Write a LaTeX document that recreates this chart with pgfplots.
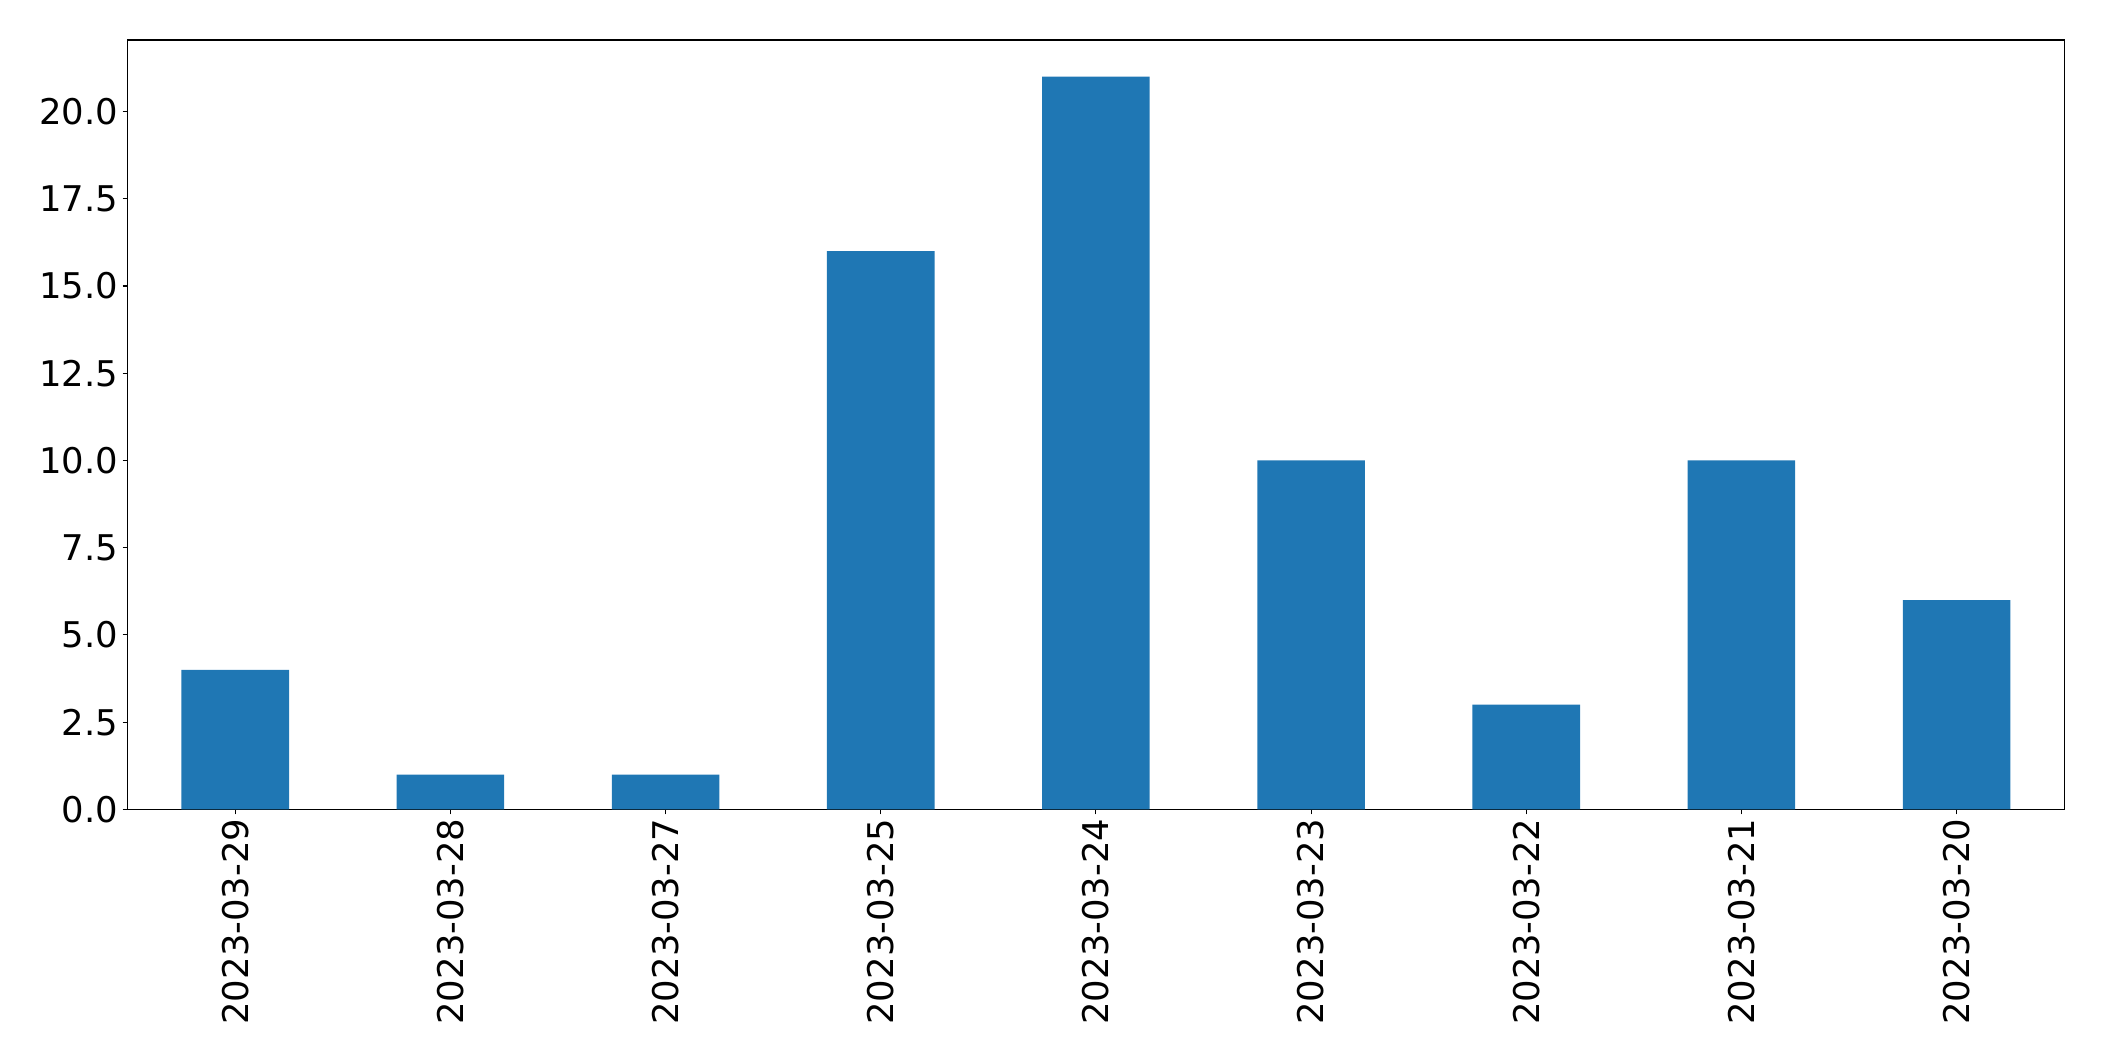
\documentclass[border=0pt]{standalone}
\usepackage{pgfplots}
\pgfplotsset{compat=1.18}
\usepackage{fontspec}
\setmainfont{DejaVu Sans}
\definecolor{mplblue}{HTML}{1F77B4}
\begin{document}
\fontsize{17.7}{21}\selectfont
\begin{tikzpicture}
\path[use as bounding box] (-63.85pt,-125.85pt) rectangle (988.15pt,404.7pt);
\begin{axis}[
  at={(0,0)}, anchor=south west,
  scale only axis=true,
  width=968.2pt, height=384.7pt,
  xmin=-0.5, xmax=8.5, ymin=0, ymax=22.05,
  xtick={0,1,2,3,4,5,6,7,8},
  xticklabels={2023-03-29,2023-03-28,2023-03-27,2023-03-25,2023-03-24,2023-03-23,2023-03-22,2023-03-21,2023-03-20},
  xticklabel style={rotate=90, anchor=east, inner sep=2pt},
  ytick={0,2.5,5,7.5,10,12.5,15,17.5,20},
  yticklabel style={/pgf/number format/fixed, /pgf/number format/fixed zerofill, /pgf/number format/precision=1, inner sep=2pt},
  /pgf/number format/assume math mode=true,
  tick label style={font=\fontsize{17.7}{21}\selectfont},
  tick align=outside,
  major tick length=2.5pt,
  xtick pos=bottom, ytick pos=left,
  axis line style={line width=0.55pt},
  every tick/.style={line width=0.55pt, black},
]
\addplot[ybar, bar width=0.5, fill=mplblue, draw=none] coordinates {
(0,4) (1,1) (2,1) (3,16) (4,21) (5,10) (6,3) (7,10) (8,6)
};
\end{axis}
\end{tikzpicture}
\end{document}
